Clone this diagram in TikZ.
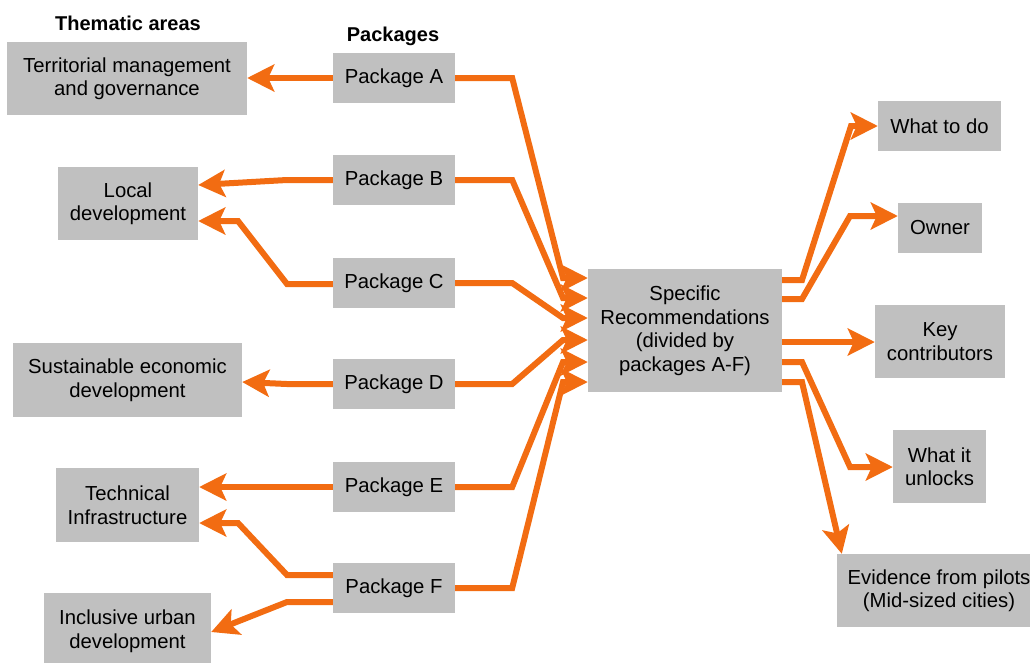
\documentclass[tikz,border=0pt]{standalone}
\usepackage{fontspec}
\setmainfont{Liberation Sans}
\usetikzlibrary{arrows.meta,calc}
\definecolor{boxgray}{RGB}{192,192,192}
\definecolor{linkorange}{RGB}{242,108,18}
\tikzset{
  box/.style={fill=boxgray, inner sep=0pt, align=center,
    font=\fontsize{20.3}{23.5}\selectfont},
  pkg/.style={box, minimum width=122pt, minimum height=50pt},
  heading/.style={font=\fontsize{20}{24}\selectfont\bfseries, inner sep=0pt},
  link/.style={draw=linkorange, line width=6pt, line join=miter,
    -{Stealth[length=27pt, width=27pt, inset=6pt]}}
}
\begin{document}
\begin{tikzpicture}[x=1pt, y=-1pt]
\useasboundingbox (0,0) rectangle (1030,662);
\clip (0,0) rectangle (1030,662);

% column headings
\node[heading] (hThem) at (128,23) {Thematic areas};
\node[heading] (hPkg) at (393,36) {Packages};

% thematic areas
\node[box, minimum width=240pt, minimum height=73pt] (terr) at (127,78.5)
  {Territorial management\\and governance};
\node[box, minimum width=140pt, minimum height=73pt] (loc) at (128,203.5)
  {Local\\development};
\node[box, minimum width=229pt, minimum height=74pt] (sust) at (127.5,380)
  {Sustainable economic\\development};
\node[box, minimum width=143pt, minimum height=74pt] (tech) at (127.5,505)
  {Technical\\Infrastructure};
\node[box, minimum width=167pt, minimum height=76pt] (incl) at (127.5,631)
  {Inclusive urban\\development};

% packages
\node[pkg] (pA) at (394,78)  {Package A};
\node[pkg] (pB) at (394,180) {Package B};
\node[pkg] (pC) at (394,283) {Package C};
\node[pkg] (pD) at (394,384) {Package D};
\node[pkg] (pE) at (394,487) {Package E};
\node[pkg] (pF) at (394,588) {Package F};

% central box
\node[box, minimum width=194pt, minimum height=123pt] (rec) at (685,330.5)
  {Specific\\Recommendations\\(divided by\\packages A-F)};

% outputs
\node[box, minimum width=123pt, minimum height=50pt] (todo) at (939.5,126) {What to do};
\node[box, minimum width=84pt, minimum height=50pt] (owner) at (940,228) {Owner};
\node[box, minimum width=130pt, minimum height=73pt] (key) at (940,341.5) {Key\\contributors};
\node[box, minimum width=93pt, minimum height=73pt] (unlock) at (939.5,466.5) {What it\\unlocks};
\node[box, minimum width=204pt, minimum height=73pt] (evid) at (939,590.5)
  {Evidence from pilots\\(Mid-sized cities)};

% packages -> thematic areas
\draw[link] (pA.west) -- (terr.east |- pA.west);
\draw[link] (pB.west) -- ++(-46,0) -- (loc.east |- 0,185);
\draw[link] (pC.west |- 0,284) -- (287,284) -- (238,221) -- (loc.east |- 0,221);
\draw[link] (pD.west) -- ++(-46,0) -- (sust.east |- 0,382);
\draw[link] (pE.west) -- (tech.east |- pE.west);
\draw[link] (pF.west |- 0,575) -- (287,575) -- (238,523) -- (tech.east |- 0,523);
\draw[link] (pF.west |- 0,602) -- (287,602) -- (incl.east |- 0,632);

% packages -> recommendations
\draw[link] (pA.east) -- ++(57,0) -- (563,278) -- (rec.west |- 0,278);
\draw[link] (pB.east) -- ++(57,0) -- (563,298) -- (rec.west |- 0,298);
\draw[link] (pC.east) -- ++(57,0) -- (563,318) -- (rec.west |- 0,318);
\draw[link] (pD.east) -- ++(57,0) -- (563,340) -- (rec.west |- 0,340);
\draw[link] (pE.east) -- ++(57,0) -- (563,362) -- (rec.west |- 0,362);
\draw[link] (pF.east) -- ++(57,0) -- (563,382) -- (rec.west |- 0,382);

% recommendations -> outputs
\draw[link] (rec.east |- 0,280) -- (802,280) -- (851,126) -- (todo.west);
\draw[link] (rec.east |- 0,299) -- (802,299) -- (850,216) -- (owner.west |- 0,216);
\draw[link] (rec.east |- 0,342) -- (key.west |- 0,342);
\draw[link] (rec.east |- 0,362) -- (802,362) -- (850,467) -- (unlock.west |- 0,467);
\draw[link] (rec.east |- 0,382) -- (802,382) -- ($(evid.north west)+(5,0)$);
\end{tikzpicture}
\end{document}
